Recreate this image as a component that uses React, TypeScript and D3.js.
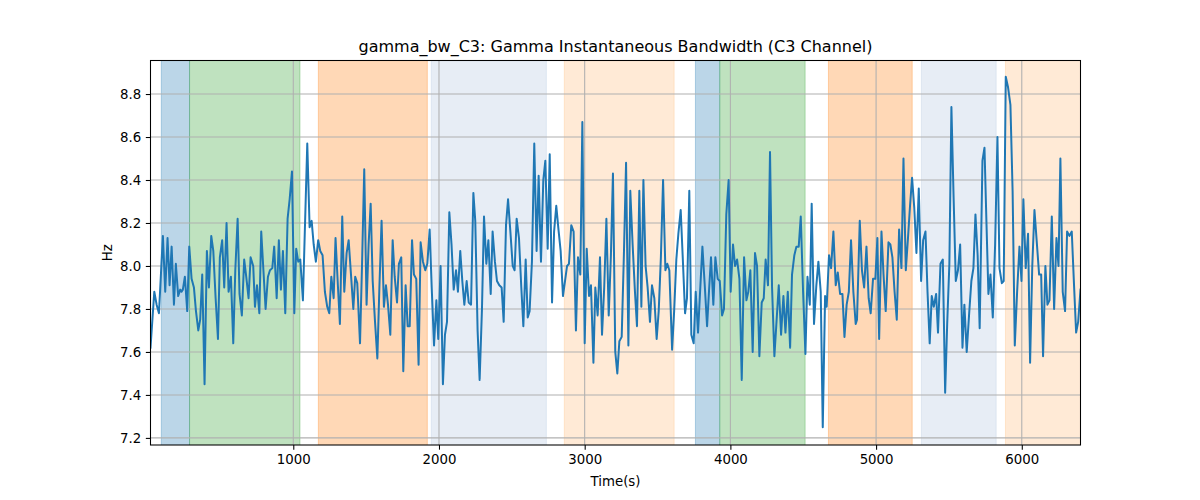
import React, { useEffect, useRef } from 'react';
import * as d3 from 'd3';

// Gamma bandwidth trace (C3).
const TIME: number[] = [
  20, 46, 62, 78, 105, 121, 137, 151, 165, 181, 194, 210, 224, 233, 242, 256, 272, 286, 302, 318,
  332, 348, 361, 375, 391, 407, 421, 437, 451, 467, 483, 496, 512, 526, 542, 556, 572, 588, 602, 618,
  631, 647, 663, 677, 693, 707, 725, 737, 751, 767, 780, 795, 810, 826, 840, 856, 869, 886, 901, 915,
  929, 945, 961, 975, 991, 1007, 1020, 1034, 1048, 1066, 1096, 1112, 1126, 1140, 1155, 1171, 1185, 1201, 1217, 1233,
  1247, 1261, 1277, 1290, 1306, 1320, 1336, 1350, 1366, 1380, 1396, 1412, 1425, 1439, 1458, 1472, 1487, 1503, 1517, 1531,
  1545, 1561, 1577, 1591, 1606, 1622, 1636, 1650, 1666, 1682, 1696, 1712, 1725, 1741, 1755, 1771, 1785, 1799, 1815, 1828,
  1844, 1860, 1874, 1890, 1906, 1920, 1936, 1950, 1966, 1982, 1995, 2011, 2027, 2041, 2055, 2071, 2086, 2101, 2117, 2130,
  2146, 2160, 2174, 2190, 2204, 2220, 2236, 2249, 2265, 2279, 2295, 2309, 2325, 2339, 2355, 2368, 2384, 2398, 2414, 2430,
  2444, 2460, 2474, 2490, 2506, 2519, 2533, 2549, 2565, 2579, 2595, 2609, 2622, 2638, 2654, 2670, 2684, 2700, 2716, 2730,
  2746, 2760, 2776, 2790, 2805, 2820, 2835, 2851, 2867, 2879, 2892, 2908, 2924, 2940, 2954, 2970, 2984, 3000, 3014, 3030,
  3043, 3060, 3073, 3089, 3105, 3119, 3134, 3149, 3165, 3180, 3194, 3210, 3224, 3238, 3254, 3269, 3284, 3300, 3313, 3329,
  3345, 3359, 3375, 3389, 3403, 3418, 3432, 3448, 3462, 3478, 3494, 3508, 3523, 3538, 3554, 3567, 3581, 3600, 3614, 3629,
  3643, 3659, 3673, 3689, 3702, 3718, 3732, 3748, 3762, 3778, 3792, 3808, 3824, 3840, 3853, 3867, 3883, 3897, 3913, 3927,
  3943, 3956, 3972, 3988, 4002, 4018, 4032, 4046, 4062, 4078, 4094, 4110, 4123, 4137, 4153, 4169, 4183, 4199, 4215, 4229,
  4242, 4258, 4272, 4286, 4302, 4332, 4348, 4364, 4378, 4394, 4410, 4423, 4439, 4453, 4469, 4483, 4499, 4515, 4529, 4545,
  4558, 4574, 4590, 4604, 4620, 4634, 4650, 4661, 4677, 4691, 4707, 4723, 4737, 4753, 4769, 4783, 4798, 4813, 4828, 4844,
  4860, 4869, 4888, 4903, 4918, 4934, 4949, 4963, 4979, 4995, 5009, 5021, 5037, 5051, 5066, 5085, 5098, 5112, 5127, 5142,
  5158, 5174, 5188, 5204, 5218, 5233, 5247, 5262, 5277, 5293, 5309, 5323, 5339, 5353, 5368, 5382, 5396, 5412, 5425, 5442,
  5458, 5474, 5488, 5503, 5517, 5532, 5547, 5562, 5577, 5593, 5606, 5622, 5638, 5654, 5668, 5682, 5697, 5711, 5730, 5744,
  5758, 5771, 5785, 5801, 5817, 5833, 5847, 5863, 5876, 5890, 5906, 5922, 5937, 5952, 5968, 5984, 5998, 6011, 6027, 6043,
  6057, 6072, 6087, 6103, 6119, 6133, 6146, 6162, 6176, 6190, 6206, 6222, 6238, 6252, 6265, 6281, 6297, 6311, 6327, 6343,
  6358, 6373, 6387, 6403,
];

const HZ: number[] = [
  7.62, 7.88, 7.82, 7.78, 8.14, 7.88, 8.13, 7.91, 8.09, 7.82, 8.01, 7.86, 7.89, 7.88, 7.89, 7.95, 7.79, 8.09, 7.94, 7.90,
  7.79, 7.70, 7.75, 7.96, 7.45, 8.07, 7.90, 8.14, 8.07, 7.85, 7.66, 8.04, 8.12, 7.90, 8.20, 7.88, 7.95, 7.64, 7.98, 8.22,
  7.87, 7.77, 8.03, 7.95, 7.85, 8.04, 8.00, 7.81, 7.91, 7.78, 8.16, 7.98, 7.80, 7.95, 7.98, 7.99, 8.09, 7.85, 8.12, 7.89,
  8.07, 7.78, 8.22, 8.31, 8.44, 7.78, 8.08, 8.02, 8.03, 7.84, 8.57, 8.18, 8.21, 8.10, 8.02, 8.12, 8.07, 8.05, 7.88, 7.81,
  7.78, 7.95, 7.85, 8.13, 7.91, 7.73, 8.23, 7.88, 8.06, 8.12, 7.96, 7.80, 7.95, 7.92, 7.64, 8.01, 8.45, 7.82, 8.10, 8.29,
  7.93, 7.74, 7.57, 7.90, 8.21, 7.81, 7.91, 7.82, 7.68, 8.12, 7.95, 7.83, 8.01, 8.04, 7.51, 7.91, 7.72, 7.72, 8.12, 7.96,
  7.94, 7.54, 8.11, 8.02, 7.98, 8.01, 8.17, 7.90, 7.63, 7.84, 7.66, 8.00, 7.45, 7.68, 7.74, 8.25, 8.10, 7.89, 7.98, 7.88,
  8.07, 7.93, 7.82, 7.93, 7.83, 7.82, 8.34, 8.21, 7.70, 7.47, 7.80, 8.23, 8.01, 8.12, 7.87, 8.16, 8.02, 7.93, 7.91, 7.90,
  7.74, 8.19, 8.31, 8.16, 8.00, 7.98, 8.22, 8.13, 7.90, 7.72, 8.03, 7.76, 7.79, 8.02, 8.57, 8.07, 8.42, 8.02, 8.40, 8.49,
  8.08, 8.52, 7.83, 8.16, 8.28, 8.17, 8.07, 7.86, 7.94, 8.00, 8.01, 8.19, 8.16, 7.70, 8.04, 7.96, 8.67, 7.64, 8.08, 7.86,
  7.91, 7.55, 7.90, 7.77, 8.04, 7.68, 7.90, 8.22, 7.77, 8.05, 8.43, 7.60, 7.50, 7.65, 7.67, 8.05, 8.48, 7.63, 8.35, 8.10,
  7.88, 7.72, 8.35, 7.81, 8.40, 8.00, 7.90, 7.74, 7.91, 7.85, 7.66, 7.79, 8.04, 8.40, 7.98, 8.01, 7.98, 7.61, 7.79, 8.03,
  8.15, 8.26, 8.04, 7.78, 7.85, 8.35, 7.68, 7.64, 7.88, 7.69, 7.88, 8.09, 7.91, 7.72, 7.88, 8.04, 7.82, 8.04, 7.94, 7.93,
  7.77, 7.80, 8.24, 8.40, 7.88, 8.10, 8.00, 8.03, 7.94, 7.47, 8.04, 7.84, 7.88, 7.98, 7.60, 8.06, 8.00, 7.58, 7.83, 7.85,
  8.03, 7.91, 8.53, 7.90, 7.58, 7.91, 7.68, 7.86, 7.69, 7.88, 7.62, 7.96, 8.05, 8.09, 8.09, 8.23, 7.88, 7.59, 7.95, 7.82,
  8.29, 7.73, 7.91, 8.02, 7.88, 7.25, 7.86, 7.81, 8.05, 7.99, 8.16, 7.91, 7.97, 7.87, 7.87, 7.67, 7.82, 7.88, 8.12, 7.88,
  7.73, 7.75, 8.21, 7.98, 7.90, 8.09, 7.85, 7.78, 7.94, 7.94, 8.13, 7.66, 8.16, 7.96, 7.79, 8.11, 8.10, 8.04, 7.88, 7.75,
  8.17, 7.99, 8.50, 7.98, 8.12, 8.28, 8.41, 8.27, 8.06, 8.36, 7.93, 8.12, 8.16, 7.88, 7.64, 7.86, 7.81, 7.87, 7.69, 8.01,
  8.03, 7.41, 7.73, 8.01, 8.74, 8.32, 7.93, 7.98, 8.10, 7.62, 7.82, 7.60, 7.77, 7.93, 7.99, 8.24, 8.05, 7.71, 8.49, 8.55,
  8.19, 7.87, 7.96, 7.76, 8.10, 8.60, 7.99, 7.92, 7.93, 8.88, 8.83, 8.75, 8.35, 7.63, 7.88, 8.09, 7.93, 8.31, 7.99, 8.15,
  7.55, 8.00, 8.26, 8.11, 7.96, 7.96, 7.58, 8.00, 7.82, 7.84, 8.23, 7.80, 8.13, 8.00, 8.50, 7.88, 7.79, 8.16, 8.14, 8.16,
  7.92, 7.69, 7.74, 7.89,
];

// Shaded stage windows (start / end in seconds) and their kind.
const SPAN_STARTS: number[] = [94, 288, 1172, 1947, 2860, 3760, 3927, 4673, 5311, 5888];
const SPAN_ENDS: number[] = [288, 1046, 1920, 2737, 3614, 3927, 4513, 5248, 5824, 6403];
const SPAN_KINDS: string[] = ['A', 'B', 'C', 'D', 'E', 'A', 'B', 'C', 'D', 'E'];

const Y_TICKS: number[] = [7.2, 7.4, 7.6, 7.8, 8.0, 8.2, 8.4, 8.6, 8.8];
const X_TICKS: number[] = [1000, 2000, 3000, 4000, 5000, 6000];

const KIND_COLOR: Record<string, string> = {
  A: '#1f77b4',
  B: '#2ca02c',
  C: '#ff7f0e',
  D: '#b0c4de',
  E: '#ffbb78',
};

const FONT = 'DejaVu Sans, sans-serif';

const App: React.FC = () => {
  const ref = useRef<SVGSVGElement>(null);

  useEffect(() => {
    const svgEl = ref.current;
    if (!svgEl) return;

    const W = 1200;
    const H = 500;
    const margin = { top: 60.5, right: 119.5, bottom: 55, left: 150.5 };
    const width = W - margin.left - margin.right;
    const height = H - margin.top - margin.bottom;

    const svg = d3.select(svgEl).attr('width', W).attr('height', H).attr('viewBox', `0 0 ${W} ${H}`);
    svg.selectAll('*').remove();

    svg.append('rect').attr('width', W).attr('height', H).attr('fill', '#ffffff');

    const g = svg.append('g').attr('transform', `translate(${margin.left},${margin.top})`);

    const x = d3
      .scaleLinear()
      .domain(d3.extent(TIME) as [number, number])
      .range([0, width]);

    const y = d3.scaleLinear().domain([7.167, 8.956]).range([height, 0]);

    g.append('defs')
      .append('clipPath')
      .attr('id', 'plot-clip')
      .append('rect')
      .attr('width', width)
      .attr('height', height);

    const plot = g.append('g').attr('clip-path', 'url(#plot-clip)');

    // stage shading
    plot
      .selectAll('rect.span')
      .data(SPAN_STARTS.map((s, i) => ({ s, e: SPAN_ENDS[i], k: SPAN_KINDS[i] })))
      .join('rect')
      .attr('class', 'span')
      .attr('x', (d) => x(d.s))
      .attr('width', (d) => x(d.e) - x(d.s))
      .attr('y', -2)
      .attr('height', height + 4)
      .attr('fill', (d) => KIND_COLOR[d.k])
      .attr('fill-opacity', 0.3)
      .attr('stroke', (d) => KIND_COLOR[d.k])
      .attr('stroke-opacity', 0.3)
      .attr('stroke-width', 1);

    // grid
    plot
      .selectAll('line.gx')
      .data(X_TICKS)
      .join('line')
      .attr('class', 'gx')
      .attr('x1', (d) => x(d))
      .attr('x2', (d) => x(d))
      .attr('y1', 0)
      .attr('y2', height)
      .attr('stroke', '#b0b0b0')
      .attr('stroke-width', 1.07);

    plot
      .selectAll('line.gy')
      .data(Y_TICKS)
      .join('line')
      .attr('class', 'gy')
      .attr('x1', 0)
      .attr('x2', width)
      .attr('y1', (d) => y(d))
      .attr('y2', (d) => y(d))
      .attr('stroke', '#b0b0b0')
      .attr('stroke-width', 1.07);

    const line = d3
      .line<number>()
      .x((_, i) => x(TIME[i]))
      .y((d) => y(d));

    plot
      .append('path')
      .datum(HZ)
      .attr('d', line)
      .attr('fill', 'none')
      .attr('stroke', '#1f77b4')
      .attr('stroke-width', 2)
      .attr('stroke-linejoin', 'round')
      .attr('stroke-linecap', 'square');

    // axes
    const xAxis = d3.axisBottom(x).tickValues(X_TICKS).tickSize(4.67).tickPadding(4.67).tickFormat(d3.format('d'));
    g.append('g')
      .attr('transform', `translate(0,${height})`)
      .call(xAxis)
      .call((s) => s.select('.domain').remove())
      .call((s) => s.selectAll('line').attr('stroke', '#000').attr('stroke-width', 1.07))
      .call((s) =>
        s.selectAll('text').attr('fill', '#000').attr('font-size', 13.33).attr('font-family', FONT)
      );

    const yAxis = d3.axisLeft(y).tickValues(Y_TICKS).tickSize(4.67).tickPadding(4.67).tickFormat(d3.format('.1f'));
    g.append('g')
      .call(yAxis)
      .call((s) => s.select('.domain').remove())
      .call((s) => s.selectAll('line').attr('stroke', '#000').attr('stroke-width', 1.07))
      .call((s) =>
        s.selectAll('text').attr('fill', '#000').attr('font-size', 13.33).attr('font-family', FONT)
      );

    g.append('rect')
      .attr('width', width)
      .attr('height', height)
      .attr('fill', 'none')
      .attr('stroke', '#000')
      .attr('stroke-width', 1.07);

    svg
      .append('text')
      .attr('x', margin.left + width / 2)
      .attr('y', 52)
      .attr('text-anchor', 'middle')
      .attr('font-family', FONT)
      .attr('font-size', 16)
      .attr('fill', '#000')
      .text('gamma_bw_C3: Gamma Instantaneous Bandwidth (C3 Channel)');

    svg
      .append('text')
      .attr('x', margin.left + width / 2)
      .attr('y', 486)
      .attr('text-anchor', 'middle')
      .attr('font-family', FONT)
      .attr('font-size', 13.33)
      .attr('fill', '#000')
      .text('Time(s)');

    svg
      .append('text')
      .attr('transform', `translate(112,${margin.top + height / 2}) rotate(-90)`)
      .attr('text-anchor', 'middle')
      .attr('font-family', FONT)
      .attr('font-size', 13.33)
      .attr('fill', '#000')
      .text('Hz');
  }, []);

  return (
    <div style={{ position: 'absolute', left: 0, top: 0 }}>
      <svg ref={ref} style={{ display: 'block' }} aria-label="Gamma instantaneous bandwidth C3 channel" />
    </div>
  );
};

export default App;
